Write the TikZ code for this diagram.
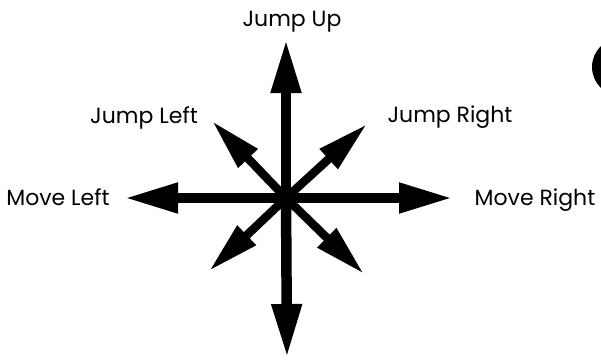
\documentclass[tikz,border=0pt]{standalone}
\usepackage{fontspec}
\setmainfont{Poppins}
\usetikzlibrary{arrows.meta}
\tikzset{
  lbl/.style={font=\fontsize{22}{22}\selectfont,anchor=base,inner sep=0pt},
  bigarrow/.style={-{Triangle[length=54pt,width=28pt]},line width=10.5pt},
  diagarrow/.style={-{Triangle[length=52pt,width=25pt]},line width=8.5pt},
}
\begin{document}
\begin{tikzpicture}[x=1pt,y=-1pt]
  \useasboundingbox (0,0) rectangle (601,359);
  \coordinate (c) at (286,198);
  % straight directions
  \foreach \name/\px/\py in {up/286/39,down/287/358,left/124/198,right/453/198}{
    \coordinate (\name) at (\px,\py);
    \draw[bigarrow] (c) -- (\name);
  }
  % diagonal directions
  \foreach \name/\px/\py in {ul/212/121,ur/367/124,dl/209/271,dr/364/274}{
    \coordinate (\name) at (\px,\py);
    \draw[diagarrow] (c) -- (\name);
  }
  \node[lbl] (jup) at (292,26) {Jump Up};
  \node[lbl] (jleft) at (144,123) {Jump Left};
  \node[lbl] (jright) at (450,122) {Jump Right};
  \node[lbl] (mleft) at (58,205) {Move Left};
  \node[lbl] (mright) at (535,205) {Move Right};
  % cut-off letter at the edge
  \begin{scope}
    \clip (0,0) rectangle (601,359);
    \fill (621,67) circle (29pt);
  \end{scope}
\end{tikzpicture}
\end{document}
